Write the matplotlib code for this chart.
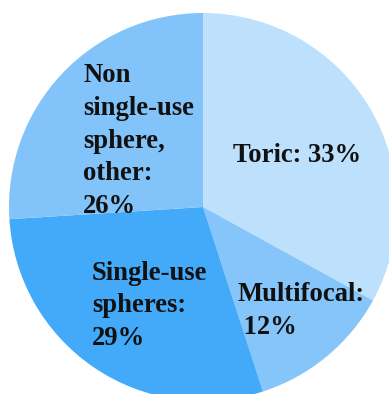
import matplotlib
matplotlib.use("Agg")
import matplotlib.pyplot as plt

# Lens type shares (%)
categories = ["Toric", "Multifocal", "Single-use\nspheres", "Non\nsingle-use\nsphere,\nother"]
shares = [33, 12, 29, 26]
colors = ["#bde1fc", "#85c5f9", "#43a9f9", "#82c4f9"]

# Label placement in pixel coordinates (left edge, vertical centre)
label_px = [(233, 155), (237, 311), (92, 306), (83, 141)]
value_sep = [" ", "\n ", "\n", "\n"]

W, H = 389, 394
cx, cy, R = 203, 207, 194  # pie centre and radius in pixels

fig = plt.figure(figsize=(W / 100, H / 100), dpi=100)
ax = fig.add_axes([0, 0, 1, 1])

ax.pie(shares, colors=colors, startangle=90, counterclock=False,
       radius=1.0, center=(0, 0), wedgeprops=dict(linewidth=0))

ax.set_aspect("auto")
ax.set_xlim(-cx / R, (W - cx) / R)
ax.set_ylim(-(H - cy) / R, cy / R)
ax.axis("off")

for cat, share, sep, (px, py) in zip(categories, shares, value_sep, label_px):
    text = f"{cat}:{sep}{share}%"
    ax.text((px - cx) / R, (cy - py) / R, text, ha="left", va="center",
            fontsize=19.2, fontweight="bold", family="Liberation Serif",
            linespacing=1.4, color="#111111")

fig.savefig("out.png", dpi=100)
